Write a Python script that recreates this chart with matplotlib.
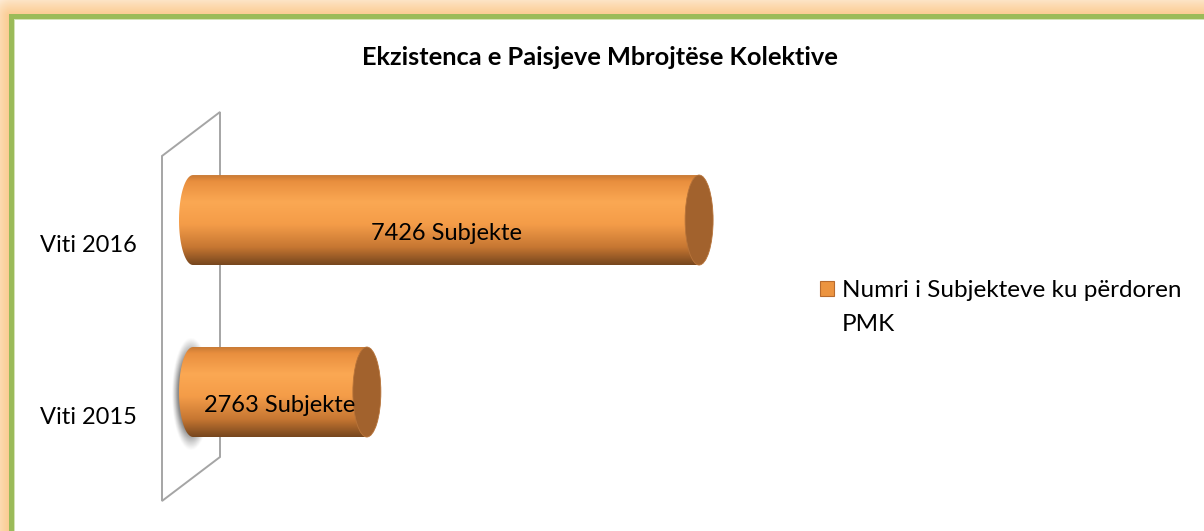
import numpy as np
import matplotlib.pyplot as plt
from matplotlib.patches import Ellipse, PathPatch, Rectangle, Polygon
from matplotlib.path import Path
from matplotlib.colors import LinearSegmentedColormap, to_rgb
import matplotlib.transforms as mtransforms

plt.rcParams['font.family'] = ['Lato', 'DejaVu Sans']

# --- data ---
categories = ['Viti 2015', 'Viti 2016']
values = [2763, 7426]
series_lines = ['Numri i Subjekteve ku përdoren', 'PMK']
title = 'Ekzistenca e Paisjeve Mbrojtëse Kolektive'

W, H = 1204, 531
fig = plt.figure(figsize=(W / 100, H / 100), dpi=100)

# background layer in pixel coordinates: glow, frame and the 3D wall
bg = fig.add_axes([0, 0, 1, 1], zorder=0)
bg.set_xlim(0, W)
bg.set_ylim(H, 0)
bg.axis('off')

yy, xx = np.mgrid[0:H, 0:W] + 0.5
fx, fy = 11, 16.5
dx = np.clip(fx - xx, 0, None)
dy = np.clip(fy - yy, 0, None)
dist = np.hypot(dx, dy)
glow = np.clip(1 - dist / 26, 0, 1) ** 0.7
peach = np.array(to_rgb('#FBC98C'))
img = np.ones((H, W, 3)) * (1 - glow[..., None]) + peach * glow[..., None]
img[(xx > fx) & (yy > fy)] = 1.0
bg.imshow(img, extent=(0, W, H, 0), aspect='auto', interpolation='bilinear')

green = '#9BBB59'
bg.add_patch(Rectangle((8.5, 14), W, 5, color=green, lw=0))
bg.add_patch(Rectangle((8.5, 14), 5, H, color=green, lw=0))
bg.add_patch(Rectangle((13.5, 19), W, 1.2, color='#D5E3B8', lw=0))
bg.add_patch(Rectangle((13.5, 19), 1.2, H, color='#D5E3B8', lw=0))

wall = Polygon([(162, 156), (220, 112), (220, 457), (162, 501)], closed=True,
               facecolor='white', edgecolor='#A5A5A5', lw=1.4)
bg.add_patch(wall)

bg.text(W / 2 - 2, 65, title, ha='center', va='baseline', fontsize=18.3,
        fontweight='bold', color='black')

# --- bar axes ---
px_per_unit = 570 / 8000
ax_left, ax_right = 170, 740
ylim = (-0.628, 1.698)
ax_bottom_px, ax_top_px = 500, 100
ax = fig.add_axes([ax_left / W, (H - ax_bottom_px) / H,
                   (ax_right - ax_left) / W, (ax_bottom_px - ax_top_px) / H],
                  zorder=1)
ax.patch.set_alpha(0)
ax.axis('off')

bar_h = 90 / 172                 # cylinder height in category units
cap_a = 14 / px_per_unit         # half width of the elliptical caps
start = 23 / px_per_unit         # left end of cylinders sits in front of the wall

shade = LinearSegmentedColormap.from_list('cyl', [
    (0.00, '#C97A35'), (0.07, '#E98F3E'), (0.30, '#FBA853'),
    (0.55, '#F49C48'), (0.80, '#C77732'), (1.00, '#76461E')])
grad = shade(np.linspace(0, 1, 256))[:, None, :3]

for i, (cat, val) in enumerate(zip(categories, values)):
    y0, y1 = i - bar_h / 2, i + bar_h / 2

    if i == 0:
        # soft shadow behind the left end of the lower cylinder
        sx = np.linspace(-1.6, 1.6, 80)
        sy = np.linspace(-1.6, 1.6, 160)
        gx, gy = np.meshgrid(sx, sy)
        r = np.hypot(gx / 0.9, gy)
        a = np.clip((1.4 - r) / 0.45, 0, 1) ** 1.2 * 0.8
        shadow = np.zeros((160, 80, 4))
        shadow[..., :3] = 0.42
        shadow[..., 3] = a
        ax.imshow(shadow, extent=(start - 1.9 * cap_a, start + 1.6 * cap_a,
                                  i - 0.74 * bar_h, i + 0.70 * bar_h),
                  aspect='auto', zorder=1, interpolation='bilinear')

    t = np.linspace(np.pi / 2, 3 * np.pi / 2, 40)
    verts = [(start + cap_a * np.cos(tt), i + bar_h / 2 * np.sin(tt)) for tt in t]
    verts += [(val, y0), (val, y1), verts[0]]
    body = Path(verts, closed=True)
    outline = PathPatch(body, facecolor='none', edgecolor='none')
    ax.add_patch(outline)
    im = ax.imshow(grad, extent=(start - cap_a, val, y0, y1), aspect='auto',
                   zorder=2, origin='upper', interpolation='bilinear')
    im.set_clip_path(outline)

    ax.add_patch(Ellipse((val, i), 2 * cap_a, bar_h, facecolor='#A2622D',
                         edgecolor='#B8743A', lw=0.6, zorder=3))

    lbl_off = mtransforms.ScaledTranslation(0, -20 / 100, fig.dpi_scale_trans)
    ax.text((start + val) / 2, i, f'{val} Subjekte', ha='center', va='baseline',
            fontsize=17, color='black', zorder=4,
            transform=ax.transData + lbl_off)

    cat_off = mtransforms.ScaledTranslation(-33 / 100, -32 / 100, fig.dpi_scale_trans)
    ax.text(0, i, cat, ha='right', va='baseline', fontsize=17, color='black',
            transform=ax.transData + cat_off)

ax.set_xlim(0, 8000)
ax.set_ylim(*ylim)

# legend
bg.add_patch(Rectangle((820, 281), 14, 15, facecolor='#EC9440',
                       edgecolor='#B86B2E', lw=0.8))
for k, line in enumerate(series_lines):
    bg.text(842, 297 + 34 * k, line, ha='left', va='baseline', fontsize=17.5,
            color='black')

fig.savefig('out.png', dpi=100)
